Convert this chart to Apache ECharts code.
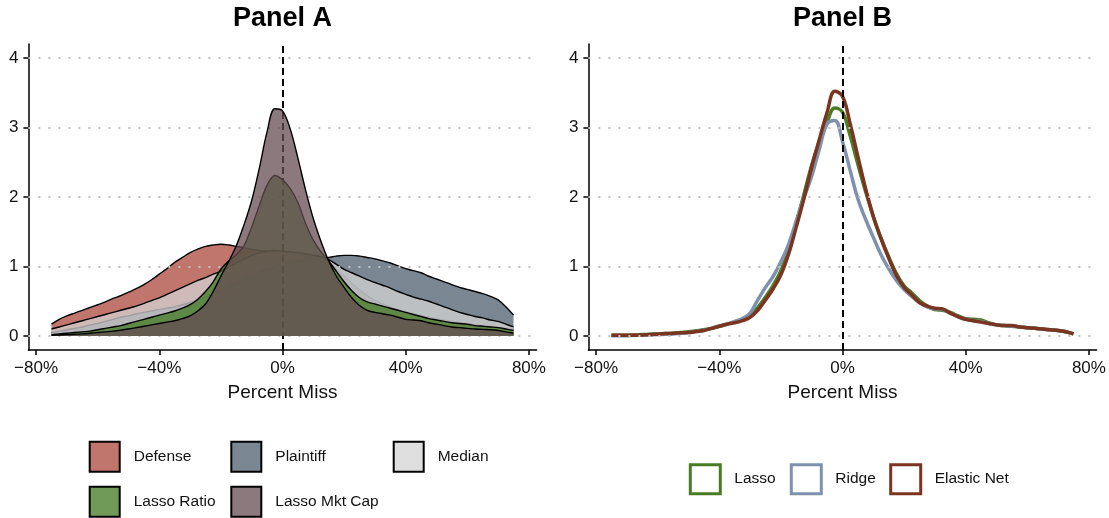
<!DOCTYPE html>
<html>
<head>
<meta charset="utf-8">
<script src="https://cdn.jsdelivr.net/npm/echarts@6/dist/echarts.min.js"></script>
<style>
html,body{margin:0;padding:0;background:#fff;}
#chart{width:1109px;height:518px;}
</style>
</head>
<body>
<div id="chart"></div>
<script>
// ---------- data ----------
const pctMiss = [-75,-72.5,-70,-67.5,-65,-62.5,-60,-57.5,-55,-52.5,-50,-47.5,-45,-42.5,-40,-37.5,-35,-32.5,-30,-27.5,-25,-22.5,-20,-17.5,-15,-12.5,-10,-7.5,-5,-2.5,0,2.5,5,7.5,10,12.5,15,17.5,20,22.5,25,27.5,30,32.5,35,37.5,40,42.5,45,47.5,50,52.5,55,57.5,60,62.5,65,67.5,70,72.5,75];

// Panel A densities
const defense = [0.17,0.24,0.29,0.33,0.37,0.41,0.45,0.49,0.54,0.58,0.63,0.68,0.74,0.81,0.89,0.97,1.06,1.13,1.20,1.25,1.29,1.31,1.32,1.31,1.29,1.27,1.25,1.23,1.22,1.21,1.20,1.19,1.17,1.15,1.13,1.10,1.05,0.96,0.86,0.76,0.66,0.58,0.51,0.46,0.42,0.38,0.35,0.32,0.29,0.27,0.25,0.23,0.21,0.19,0.18,0.16,0.15,0.14,0.12,0.11,0.10];
const plaintiff = [0.05,0.07,0.09,0.11,0.13,0.16,0.18,0.21,0.24,0.27,0.29,0.32,0.34,0.36,0.38,0.40,0.42,0.45,0.48,0.52,0.56,0.61,0.66,0.71,0.76,0.82,0.87,0.92,0.96,1.00,1.03,1.06,1.08,1.10,1.11,1.12,1.13,1.15,1.16,1.16,1.15,1.13,1.11,1.08,1.05,1.01,0.97,0.94,0.91,0.86,0.82,0.78,0.74,0.70,0.67,0.64,0.61,0.57,0.52,0.42,0.30];
const median = [0.10,0.13,0.16,0.19,0.22,0.25,0.28,0.31,0.34,0.37,0.40,0.43,0.47,0.51,0.55,0.60,0.65,0.70,0.75,0.80,0.84,0.89,0.93,0.99,1.05,1.11,1.16,1.20,1.22,1.23,1.22,1.21,1.20,1.18,1.16,1.14,1.10,1.03,0.96,0.91,0.86,0.81,0.77,0.73,0.69,0.64,0.60,0.56,0.53,0.50,0.46,0.42,0.38,0.34,0.31,0.28,0.26,0.23,0.21,0.17,0.13];
const lassoRatio = [0.02,0.03,0.04,0.05,0.06,0.07,0.09,0.11,0.13,0.15,0.18,0.21,0.24,0.27,0.30,0.33,0.36,0.40,0.45,0.53,0.64,0.78,0.96,1.08,1.17,1.30,1.57,1.88,2.17,2.31,2.25,2.12,1.92,1.62,1.38,1.21,1.08,0.93,0.78,0.65,0.55,0.49,0.46,0.43,0.40,0.37,0.34,0.31,0.28,0.25,0.23,0.21,0.19,0.18,0.17,0.15,0.14,0.13,0.12,0.10,0.08];
const lassoMktCap = [0.01,0.015,0.02,0.025,0.03,0.04,0.05,0.06,0.07,0.085,0.10,0.12,0.14,0.16,0.18,0.20,0.22,0.25,0.29,0.36,0.46,0.64,0.86,1.07,1.30,1.60,1.95,2.42,2.94,3.27,3.24,2.98,2.56,2.10,1.69,1.36,1.08,0.86,0.70,0.55,0.44,0.37,0.34,0.32,0.30,0.27,0.24,0.23,0.22,0.19,0.17,0.15,0.13,0.12,0.11,0.10,0.095,0.09,0.08,0.06,0.04];

// Panel B densities
const lasso = [0.01,0.01,0.01,0.015,0.02,0.025,0.03,0.035,0.04,0.05,0.06,0.075,0.09,0.11,0.14,0.17,0.20,0.23,0.29,0.41,0.56,0.73,0.94,1.24,1.63,2.04,2.46,2.80,3.08,3.28,3.22,2.88,2.47,2.08,1.72,1.41,1.14,0.90,0.72,0.62,0.51,0.43,0.38,0.37,0.34,0.29,0.25,0.24,0.23,0.19,0.16,0.15,0.14,0.13,0.12,0.11,0.10,0.09,0.08,0.06,0.03];
const ridge = [0.005,0.005,0.005,0.01,0.01,0.015,0.02,0.025,0.03,0.04,0.05,0.065,0.085,0.11,0.14,0.17,0.21,0.25,0.33,0.52,0.70,0.86,1.07,1.32,1.66,1.99,2.30,2.69,3.05,3.10,2.80,2.38,1.97,1.68,1.42,1.17,0.97,0.80,0.67,0.57,0.48,0.42,0.39,0.38,0.33,0.28,0.24,0.22,0.21,0.18,0.16,0.15,0.14,0.13,0.12,0.11,0.10,0.09,0.08,0.06,0.03];
const elasticNet = [0.01,0.01,0.01,0.01,0.015,0.02,0.03,0.035,0.04,0.045,0.05,0.065,0.08,0.11,0.14,0.17,0.19,0.22,0.27,0.37,0.52,0.68,0.88,1.18,1.57,1.98,2.43,2.83,3.22,3.52,3.45,3.05,2.58,2.12,1.72,1.40,1.12,0.87,0.70,0.59,0.48,0.43,0.40,0.39,0.33,0.28,0.24,0.22,0.20,0.18,0.16,0.15,0.15,0.13,0.12,0.11,0.10,0.09,0.08,0.06,0.03];

const xTicks = [-80,-40,0,40,80];
const yTicks = [0,1,2,3,4];
const panelTitles = ['Panel A','Panel B'];
const xTitle = 'Percent Miss';
const namesA = ['Defense','Plaintiff','Median','Lasso Ratio','Lasso Mkt Cap'];
const namesB = ['Lasso','Ridge','Elastic Net'];

// ---------- styling ----------
const FONT = "'Liberation Sans', Arial, Helvetica, sans-serif";
const fillA = ['#ab483b','#4e5f6e','#d3d3d3','#407820','#664c53'];   // fill base colours (drawn at 0.75 opacity)
const keyA  = ['#c0766c','#7a8792','#dedede','#709a58','#8c797e'];   // legend key colours (same, over white)
const colB  = ['#4a7c26','#7f92ad','#7a3520'];
const seriesA = [defense, plaintiff, median, lassoRatio, lassoMktCap];
const seriesB = [lasso, ridge, elasticNet];

const toPairs = arr => pctMiss.map((x,i)=>[x, arr[i]]);
const fmtPct = v => (v < 0 ? '\u2212' : '') + Math.abs(v) + '%';

const GRID_W = 508.2, GRID_TOP = 44.1, GRID_H = 305.8;
const gridLefts = [28.4, 588.4];

function xAxisFor(i){
  return {
    type:'value', gridIndex:i, min:-82.5, max:82.5,
    axisLine:{show:true, onZero:false, lineStyle:{color:'#000', width:1.5}},
    axisTick:{show:true, length:5, customValues:xTicks, lineStyle:{color:'#000', width:1.5}},
    axisLabel:{customValues:xTicks, formatter:fmtPct, color:'#111', fontSize:17, fontFamily:FONT, margin:10},
    splitLine:{show:false},
    name:xTitle, nameLocation:'middle', nameGap:33,
    nameTextStyle:{color:'#111', fontSize:19, fontFamily:FONT}
  };
}
function yAxisFor(i){
  return {
    type:'value', gridIndex:i, min:-0.2, max:4.2,
    axisLine:{show:true, onZero:false, lineStyle:{color:'#000', width:1.5}},
    axisTick:{show:true, length:5, customValues:yTicks, lineStyle:{color:'#000', width:1.5}},
    axisLabel:{customValues:yTicks, color:'#111', fontSize:17, fontFamily:FONT, margin:10},
    splitLine:{show:false}
  };
}
function gridSeries(i){
  return {
    type:'line', xAxisIndex:i, yAxisIndex:i, data:[], z:1, silent:true,
    markLine:{silent:true, symbol:['none','none'], label:{show:false}, emphasis:{disabled:true},
      lineStyle:{color:'#c2c2c2', width:2, type:[2,8], cap:'butt'},
      data: yTicks.map(v=>({yAxis:v}))}
  };
}
function zeroSeries(i){
  return {
    type:'line', xAxisIndex:i, yAxisIndex:i, data:[], z:20, silent:true,
    markLine:{silent:true, symbol:['none','none'], label:{show:false}, emphasis:{disabled:true},
      lineStyle:{color:'#000', width:2, type:[7,4], cap:'butt'},
      data:[{xAxis:0}]}
  };
}

const series = [gridSeries(0), gridSeries(1)];
namesA.forEach((n,k)=>{
  series.push({
    name:n, type:'line', xAxisIndex:0, yAxisIndex:0, data:toPairs(seriesA[k]),
    smooth:0.35, showSymbol:false, symbol:'none', z:2 + k,
    itemStyle:{color:fillA[k]},
    lineStyle:{color:'#000', width:1.4},
    areaStyle:{color:fillA[k], opacity:0.75}
  });
});
namesB.forEach((n,k)=>{
  series.push({
    name:n, type:'line', xAxisIndex:1, yAxisIndex:1, data:toPairs(seriesB[k]),
    smooth:0.4, showSymbol:false, symbol:'none', z:2 + k,
    itemStyle:{color:colB[k]},
    lineStyle:{color:colB[k], width:3.5}
  });
});
series.push(zeroSeries(0), zeroSeries(1));

// legends: one component per key so the layout matches
const legPosA = [[88.7,440.7],[230.3,440.7],[392.7,440.7],[88.7,485.7],[230.3,485.7]];
const legPosB = [[688.8,463.2],[789.8,463.2],[889.2,463.2]];
const legends = [];
namesA.forEach((n,k)=>{
  legends.push({
    data:[n], left:legPosA[k][0], top:legPosA[k][1], padding:0, icon:'rect',
    itemWidth:30, itemHeight:30, selectedMode:false,
    itemStyle:{color:keyA[k], borderColor:'#000', borderWidth:2},
    textStyle:{color:'#111', fontSize:15.5, fontFamily:FONT, padding:[0,0,0,9]}
  });
});
namesB.forEach((n,k)=>{
  legends.push({
    data:[n], left:legPosB[k][0], top:legPosB[k][1], padding:0, icon:'rect',
    itemWidth:30, itemHeight:29, selectedMode:false,
    itemStyle:{color:'#ffffff', borderColor:colB[k], borderWidth:3},
    textStyle:{color:'#111', fontSize:15.5, fontFamily:FONT, padding:[0,0,0,9]}
  });
});

const option = {
  animation:false,
  backgroundColor:'#fff',
  title: panelTitles.map((t,i)=>({
    text:t, left:gridLefts[i] + GRID_W/2, top:5, textAlign:'center', padding:0,
    textStyle:{fontSize:27, fontWeight:'bold', color:'#000', fontFamily:FONT}
  })),
  grid: gridLefts.map(l=>({left:l, top:GRID_TOP, width:GRID_W, height:GRID_H, containLabel:false})),
  xAxis:[xAxisFor(0), xAxisFor(1)],
  yAxis:[yAxisFor(0), yAxisFor(1)],
  legend: legends,
  series: series
};

const chart = echarts.init(document.getElementById('chart'), null, {renderer:'canvas'});
chart.setOption(option);
</script>
</body>
</html>
